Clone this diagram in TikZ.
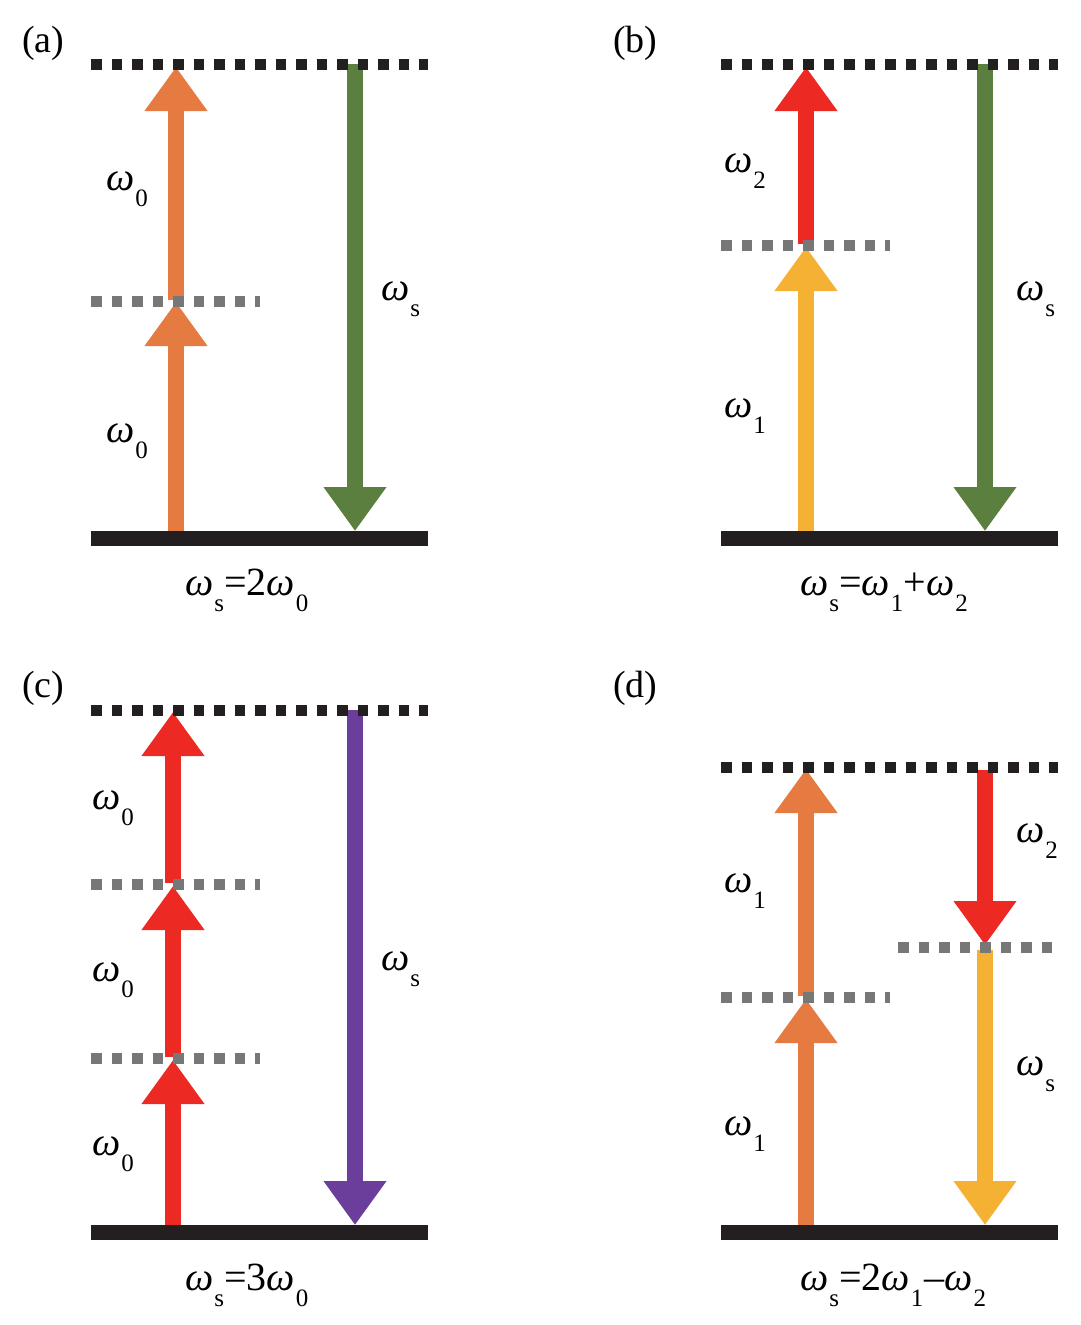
\documentclass[tikz,border=0pt]{standalone}
\usepackage{fontspec}
\setmainfont{Liberation Serif}
\usetikzlibrary{arrows.meta}
\definecolor{cOrange}{RGB}{229,123,65}
\definecolor{cGreen}{RGB}{91,127,62}
\definecolor{cRed}{RGB}{237,41,36}
\definecolor{cYellow}{RGB}{245,177,52}
\definecolor{cPurple}{RGB}{106,62,154}
\definecolor{cGray}{RGB}{119,119,119}
\definecolor{cBlack}{RGB}{35,31,32}
\newcommand{\om}{{\itshape ω}}
\newcommand{\sbs}[1]{\kern1pt\raisebox{-16pt}{\fontsize{25}{25}\selectfont #1}}
\tikzset{
  lbl/.style={anchor=base west, inner sep=0pt, font=\fontsize{40}{44}\selectfont},
  tagl/.style={anchor=base west, inner sep=0pt, font=\fontsize{38}{42}\selectfont},
  photon/.style={line width=16pt, -{Triangle[width=60pt,length=44pt]}},
  toplevel/.style={cBlack, line width=11pt, dash pattern=on 10.5pt off 10pt},
  midlevel/.style={cGray, line width=11pt, dash pattern=on 10.5pt off 10pt},
  ground/.style={cBlack, line width=15pt}
}
\begin{document}
\begin{tikzpicture}[x=1pt,y=-1pt]
\useasboundingbox (0,0) rectangle (1080,1325);
% ---------- (a)
\coordinate (aG1) at (176,531); \coordinate (aM1) at (176,302);
\coordinate (aM1b) at (176,300); \coordinate (aT1) at (176,67);
\coordinate (aT2) at (355,64); \coordinate (aG2) at (355,531);
\draw[photon, cOrange] (aG1) -- (aM1);
\draw[photon, cOrange] (aM1b) -- (aT1);
\draw[photon, cGreen] (aT2) -- (aG2);
\coordinate (aTL) at (91,64); \coordinate (aTR) at (428,64);
\coordinate (aML) at (91,301); \coordinate (aMR) at (260,301);
\coordinate (aGL) at (91,538); \coordinate (aGR) at (428,538);
\draw[toplevel] (aTL) -- (aTR);
\draw[midlevel] (aML) -- (aMR);
\draw[ground] (aGL) -- (aGR);
\node[tagl] (ta) at (22,52) {(a)};
\node[lbl] (la1) at (106,190) {\om\sbs{0}};
\node[lbl] (la2) at (106,442) {\om\sbs{0}};
\node[lbl] (la3) at (381,300) {\om\sbs{s}};
\node[lbl] (fa) at (185,595) {\om\sbs{s}=2\om\sbs{0}};
% ---------- (b)
\coordinate (bG1) at (806,531); \coordinate (bM1) at (806,247);
\coordinate (bM1b) at (806,244); \coordinate (bT1) at (806,67);
\coordinate (bT2) at (985,64); \coordinate (bG2) at (985,531);
\draw[photon, cYellow] (bG1) -- (bM1);
\draw[photon, cRed] (bM1b) -- (bT1);
\draw[photon, cGreen] (bT2) -- (bG2);
\coordinate (bTL) at (721,64); \coordinate (bTR) at (1058,64);
\coordinate (bML) at (721,245); \coordinate (bMR) at (890,245);
\coordinate (bGL) at (721,538); \coordinate (bGR) at (1058,538);
\draw[toplevel] (bTL) -- (bTR);
\draw[midlevel] (bML) -- (bMR);
\draw[ground] (bGL) -- (bGR);
\node[tagl] (tb) at (613,52) {(b)};
\node[lbl] (lb1) at (724,172) {\om\sbs{2}};
\node[lbl] (lb2) at (724,417) {\om\sbs{1}};
\node[lbl] (lb3) at (1016,300) {\om\sbs{s}};
\node[lbl] (fb) at (800,595) {\om\sbs{s}=\om\sbs{1}+\om\sbs{2}};
% ---------- (c)
\coordinate (cG1) at (173,1225); \coordinate (cM1) at (173,1060);
\coordinate (cM1b) at (173,1057); \coordinate (cM2) at (173,886);
\coordinate (cM2b) at (173,883); \coordinate (cT1) at (173,712);
\coordinate (cT2) at (355,710); \coordinate (cG2) at (355,1225);
\draw[photon, cRed] (cG1) -- (cM1);
\draw[photon, cRed] (cM1b) -- (cM2);
\draw[photon, cRed] (cM2b) -- (cT1);
\draw[photon, cPurple] (cT2) -- (cG2);
\coordinate (cTL) at (91,710); \coordinate (cTR) at (428,710);
\coordinate (cML1) at (91,884); \coordinate (cMR1) at (260,884);
\coordinate (cML2) at (91,1058); \coordinate (cMR2) at (260,1058);
\coordinate (cGL) at (91,1232); \coordinate (cGR) at (428,1232);
\draw[toplevel] (cTL) -- (cTR);
\draw[midlevel] (cML1) -- (cMR1);
\draw[midlevel] (cML2) -- (cMR2);
\draw[ground] (cGL) -- (cGR);
\node[tagl] (tc) at (22,697) {(c)};
\node[lbl] (lc1) at (92,809) {\om\sbs{0}};
\node[lbl] (lc2) at (92,981) {\om\sbs{0}};
\node[lbl] (lc3) at (92,1155) {\om\sbs{0}};
\node[lbl] (lc4) at (381,970) {\om\sbs{s}};
\node[lbl] (fc) at (185,1290) {\om\sbs{s}=3\om\sbs{0}};
% ---------- (d)
\coordinate (dG1) at (806,1225); \coordinate (dM1) at (806,999);
\coordinate (dM1b) at (806,996); \coordinate (dT1) at (806,769);
\coordinate (dT2) at (985,770); \coordinate (dM2) at (985,945);
\coordinate (dM2b) at (985,950); \coordinate (dG2) at (985,1225);
\draw[photon, cOrange] (dG1) -- (dM1);
\draw[photon, cOrange] (dM1b) -- (dT1);
\draw[photon, cRed] (dT2) -- (dM2);
\draw[photon, cYellow] (dM2b) -- (dG2);
\coordinate (dTL) at (721,767); \coordinate (dTR) at (1058,767);
\coordinate (dML1) at (721,997); \coordinate (dMR1) at (890,997);
\coordinate (dML2) at (898,947); \coordinate (dMR2) at (1058,947);
\coordinate (dGL) at (721,1232); \coordinate (dGR) at (1058,1232);
\draw[toplevel] (dTL) -- (dTR);
\draw[midlevel] (dML1) -- (dMR1);
\draw[midlevel] (dML2) -- (dMR2);
\draw[ground] (dGL) -- (dGR);
\node[tagl] (td) at (613,697) {(d)};
\node[lbl] (ld1) at (724,892) {\om\sbs{1}};
\node[lbl] (ld2) at (724,1135) {\om\sbs{1}};
\node[lbl] (ld3) at (1016,842) {\om\sbs{2}};
\node[lbl] (ld4) at (1016,1075) {\om\sbs{s}};
\node[lbl] (fd) at (800,1290) {\om\sbs{s}=2\om\sbs{1}\kern1pt\textendash\om\sbs{2}};
\end{tikzpicture}
\end{document}
